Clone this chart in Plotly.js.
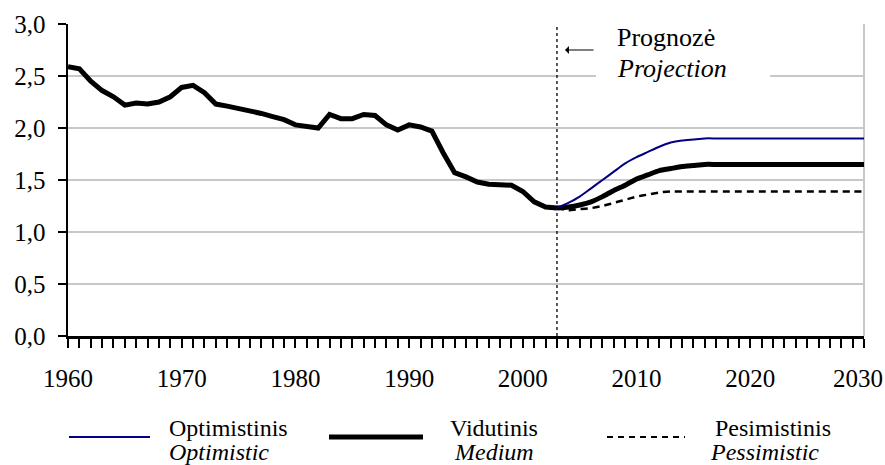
<!DOCTYPE html>
<html>
<head>
<meta charset="utf-8">
<script src="https://cdn.plot.ly/plotly-3.0.1.min.js"></script>
<style>
html,body{margin:0;padding:0;background:#fff;}
#chart{width:885px;height:465px;}
#chart text{font-family:"Liberation Serif","DejaVu Serif",serif !important;}
</style>
</head>
<body>
<div id="chart"></div>
<script>
// ---- Data ----
const histYears = [1960,1961,1962,1963,1964,1965,1966,1967,1968,1969,
                   1970,1971,1972,1973,1974,1975,1976,1977,1978,1979,
                   1980,1981,1982,1983,1984,1985,1986,1987,1988,1989,
                   1990,1991,1992,1993,1994,1995,1996,1997,1998,1999,
                   2000,2001,2002,2003];
const histValues = [2.59,2.57,2.45,2.36,2.30,2.22,2.24,2.23,2.25,2.30,
                    2.39,2.41,2.34,2.23,2.21,2.19,2.17,2.14,2.11,2.08,
                    2.03,2.02,2.00,2.13,2.09,2.09,2.13,2.12,2.03,1.98,
                    2.03,2.01,1.97,1.76,1.57,1.53,1.48,1.46,1.45,1.45,
                    1.39,1.29,1.24,1.23];
const projYears = [2003,2004,2005,2006,2007,2008,2009,2010,2011,2012,
                   2013,2014,2015,2016,2017,2018,2019,2020,2021,2022,
                   2023,2024,2025,2026,2027,2028,2029,2030];
const optimistic = [1.23,1.28,1.34,1.42,1.50,1.58,1.66,1.72,1.77,1.82,
                    1.86,1.88,1.89,1.90,1.90,1.90,1.90,1.90,1.90,1.90,
                    1.90,1.90,1.90,1.90,1.90,1.90,1.90,1.90];
const medium     = [1.23,1.24,1.26,1.29,1.34,1.40,1.45,1.51,1.55,1.59,
                    1.61,1.63,1.64,1.65,1.65,1.65,1.65,1.65,1.65,1.65,
                    1.65,1.65,1.65,1.65,1.65,1.65,1.65,1.65];
const pessimistic= [1.23,1.21,1.22,1.23,1.25,1.28,1.31,1.34,1.36,1.38,
                    1.39,1.39,1.39,1.39,1.39,1.39,1.39,1.39,1.39,1.39,
                    1.39,1.39,1.39,1.39,1.39,1.39,1.39,1.39];
const xTickVals = [1960,1970,1980,1990,2000,2010,2020,2030];
const xTickText = ['1960','1970','1980','1990','2000','2010','2020',''];
const lastTickLabel = '2030';
const projectionStart = 2003;
const labels = {
  optLt: 'Optimistinis', optEn: 'Optimistic',
  medLt: 'Vidutinis', medEn: 'Medium',
  pesLt: 'Pesimistinis', pesEn: 'Pessimistic',
  progLt: 'Prognozė', progEn: 'Projection'
};

// ---- Styling / layout ----
const FONT = 'Liberation Serif';
const NAVY = '#000080';
const GRID = '#c8c8c8';
// pixel helpers (plot area 68..864 x, 24..336 y)
const L = 68, R = 864, T = 24, B = 336;
const px = v => (v - L) / (R - L);
const py = v => (B - v) / (B - T);

const traces = [
  {x: histYears, y: histValues, mode: 'lines', line: {color: '#000', width: 5}, showlegend: false},
  {x: projYears, y: pessimistic, mode: 'lines', line: {color: '#000', width: 2.5, dash: '7px,5px', shape: 'spline', smoothing: 0.6}, showlegend: false},
  {x: projYears, y: medium, mode: 'lines', line: {color: '#000', width: 5, shape: 'spline', smoothing: 0.6}, showlegend: false},
  {x: projYears, y: optimistic, mode: 'lines', line: {color: NAVY, width: 2, shape: 'spline', smoothing: 0.6}, showlegend: false}
];

const legY = py(437);
const shapes = [
  {type: 'line', xref: 'paper', yref: 'paper', x0: 1, x1: 1, y0: 0, y1: 1, line: {color: GRID, width: 2}, layer: 'below'},
  {type: 'line', xref: 'x', yref: 'paper', x0: projectionStart, x1: projectionStart, y0: 0, y1: 1, line: {color: '#000', width: 1.3, dash: 'dot'}, layer: 'above'},
  {type: 'rect', xref: 'paper', yref: 'paper', x0: px(596), x1: px(770), y0: py(82), y1: py(16), fillcolor: '#fff', line: {width: 0}, layer: 'above'},
  {type: 'line', xref: 'paper', yref: 'paper', x0: px(69), x1: px(150), y0: legY, y1: legY, line: {color: NAVY, width: 2}},
  {type: 'line', xref: 'paper', yref: 'paper', x0: px(329), x1: px(423), y0: legY, y1: legY, line: {color: '#000', width: 5}},
  {type: 'line', xref: 'paper', yref: 'paper', x0: px(607), x1: px(685), y0: legY, y1: legY, line: {color: '#000', width: 2, dash: '6px,5px'}}
];

const f = (s) => ({family: FONT, size: s, color: '#000'});
const ann = (text, x, y, size, xa) => ({text, xref: 'paper', yref: 'paper', x: px(x), y: py(y), xanchor: xa || 'left', yanchor: 'middle', showarrow: false, font: f(size)});
const annotations = [
  {text: '', xref: 'paper', yref: 'paper', x: px(565), y: py(50), ax: 30, ay: 0, axref: 'pixel', ayref: 'pixel',
   showarrow: true, arrowhead: 1, arrowsize: 1.1, arrowwidth: 1.2, arrowcolor: '#000', standoff: 0},
  ann(labels.progLt, 615, 38, 26),
  ann('<i>' + labels.progEn + '</i>', 615, 68, 26),
  {text: lastTickLabel, xref: 'paper', yref: 'paper', x: 1, xshift: 21, y: py(378), xanchor: 'right', yanchor: 'middle', showarrow: false, font: f(25)},
  ann(labels.optLt, 167, 428, 24),
  ann('<i>' + labels.optEn + '</i>', 167, 452, 24),
  ann(labels.medLt, 448, 428, 24),
  ann('<i>' + labels.medEn + '</i>', 452, 452, 24),
  ann(labels.pesLt, 713, 428, 24),
  ann('<i>' + labels.pesEn + '</i>', 708, 452, 24)
];

const layout = {
  width: 885, height: 465,
  margin: {l: L, r: 885 - R, t: T, b: 465 - B, pad: 0},
  paper_bgcolor: '#fff', plot_bgcolor: '#fff',
  separators: ', ',
  showlegend: false,
  font: f(25),
  xaxis: {
    range: [1960, 2030], tickvals: xTickVals, ticktext: xTickText,
    ticks: 'outside', ticklen: 9, tickwidth: 2, tickcolor: '#000',
    minor: {dtick: 1, tick0: 1960, ticks: 'outside', ticklen: 9, tickwidth: 2, tickcolor: '#000', showgrid: false},
    showgrid: false, zeroline: false,
    showline: true, linecolor: '#000', linewidth: 2.5,
    tickfont: f(25), ticklabelstandoff: 9, fixedrange: true
  },
  yaxis: {
    range: [0, 3], dtick: 0.5, tick0: 0, tickformat: '.1f',
    ticks: 'outside', ticklen: 8, tickwidth: 2, tickcolor: '#000',
    showgrid: true, gridcolor: GRID, gridwidth: 2, zeroline: false,
    showline: true, linecolor: '#000', linewidth: 2.5,
    tickfont: f(25), ticklabelstandoff: 7, fixedrange: true
  },
  shapes, annotations
};

Plotly.newPlot('chart', traces, layout, {staticPlot: true, displayModeBar: false});
</script>
</body>
</html>
